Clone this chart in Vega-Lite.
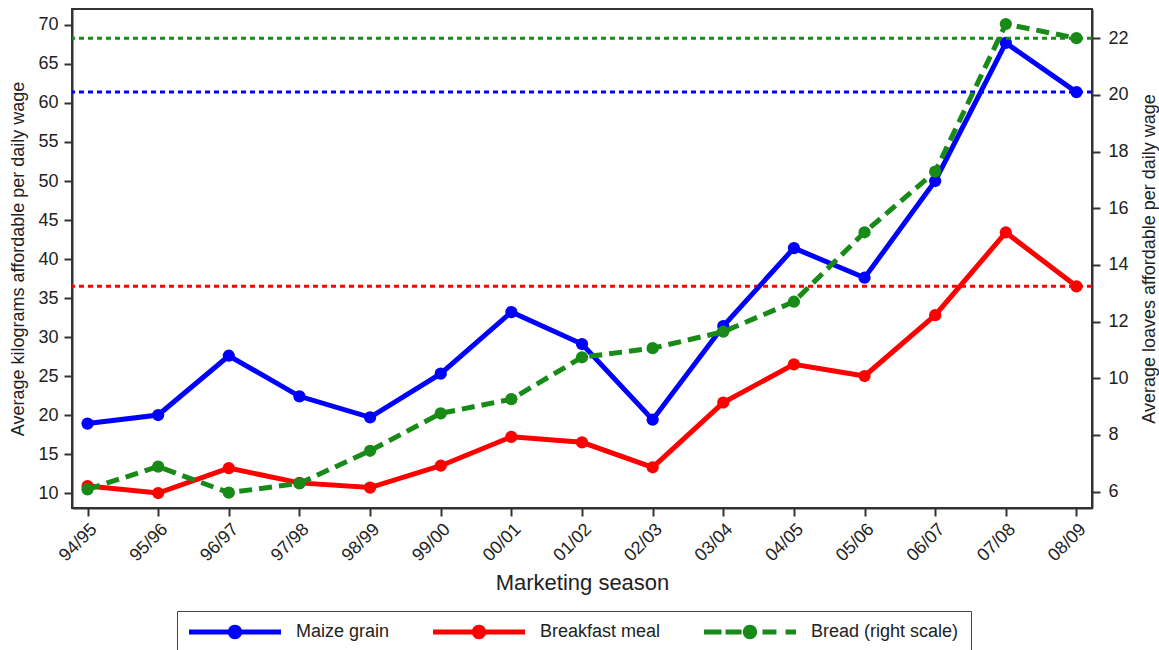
{
  "$schema": "https://vega.github.io/schema/vega-lite/v6.json",
  "width": 1020,
  "height": 499,
  "autosize": {"type": "none"},
  "padding": {"left": 72, "top": 9, "right": 67, "bottom": 142},
  "background": "white",
  "config": {
    "font": "Liberation Sans",
    "view": {"stroke": "#333", "strokeWidth": 2},
    "axis": {
      "labelFont": "Liberation Sans", "titleFont": "Liberation Sans",
      "labelFontSize": 18, "titleFontSize": 18, "titleFontWeight": "normal",
      "labelColor": "#222", "titleColor": "#222",
      "tickColor": "#333", "domainColor": "#333",
      "tickSize": 8, "tickWidth": 2, "domainWidth": 2, "grid": false
    }
  },
  "data": {
    "values": [
      {"season": "94/95", "series": "Maize grain", "value": 18.9},
      {"season": "95/96", "series": "Maize grain", "value": 20.0},
      {"season": "96/97", "series": "Maize grain", "value": 27.6},
      {"season": "97/98", "series": "Maize grain", "value": 22.4},
      {"season": "98/99", "series": "Maize grain", "value": 19.7},
      {"season": "99/00", "series": "Maize grain", "value": 25.3},
      {"season": "00/01", "series": "Maize grain", "value": 33.2},
      {"season": "01/02", "series": "Maize grain", "value": 29.1},
      {"season": "02/03", "series": "Maize grain", "value": 19.4},
      {"season": "03/04", "series": "Maize grain", "value": 31.4},
      {"season": "04/05", "series": "Maize grain", "value": 41.4},
      {"season": "05/06", "series": "Maize grain", "value": 37.6},
      {"season": "06/07", "series": "Maize grain", "value": 50.0},
      {"season": "07/08", "series": "Maize grain", "value": 67.7},
      {"season": "08/09", "series": "Maize grain", "value": 61.4},
      {"season": "94/95", "series": "Breakfast meal", "value": 10.9},
      {"season": "95/96", "series": "Breakfast meal", "value": 10.0},
      {"season": "96/97", "series": "Breakfast meal", "value": 13.2},
      {"season": "97/98", "series": "Breakfast meal", "value": 11.3},
      {"season": "98/99", "series": "Breakfast meal", "value": 10.7},
      {"season": "99/00", "series": "Breakfast meal", "value": 13.5},
      {"season": "00/01", "series": "Breakfast meal", "value": 17.2},
      {"season": "01/02", "series": "Breakfast meal", "value": 16.5},
      {"season": "02/03", "series": "Breakfast meal", "value": 13.3},
      {"season": "03/04", "series": "Breakfast meal", "value": 21.6},
      {"season": "04/05", "series": "Breakfast meal", "value": 26.5},
      {"season": "05/06", "series": "Breakfast meal", "value": 25.0},
      {"season": "06/07", "series": "Breakfast meal", "value": 32.8},
      {"season": "07/08", "series": "Breakfast meal", "value": 43.4},
      {"season": "08/09", "series": "Breakfast meal", "value": 36.5},
      {"season": "94/95", "series": "Bread (right scale)", "value": 6.08},
      {"season": "95/96", "series": "Bread (right scale)", "value": 6.88},
      {"season": "96/97", "series": "Bread (right scale)", "value": 5.96},
      {"season": "97/98", "series": "Bread (right scale)", "value": 6.29},
      {"season": "98/99", "series": "Bread (right scale)", "value": 7.44},
      {"season": "99/00", "series": "Bread (right scale)", "value": 8.76},
      {"season": "00/01", "series": "Bread (right scale)", "value": 9.26},
      {"season": "01/02", "series": "Bread (right scale)", "value": 10.74},
      {"season": "02/03", "series": "Bread (right scale)", "value": 11.06},
      {"season": "03/04", "series": "Bread (right scale)", "value": 11.64},
      {"season": "04/05", "series": "Bread (right scale)", "value": 12.7},
      {"season": "05/06", "series": "Bread (right scale)", "value": 15.15},
      {"season": "06/07", "series": "Bread (right scale)", "value": 17.29},
      {"season": "07/08", "series": "Bread (right scale)", "value": 22.5},
      {"season": "08/09", "series": "Bread (right scale)", "value": 22.0}
    ]
  },
  "layer": [
    {
      "transform": [{"filter": "datum.series !== 'Bread (right scale)'"}],
      "encoding": {
        "y": {
          "field": "value", "type": "quantitative",
          "scale": {"domain": [8.08, 72.05], "nice": false, "zero": false},
          "axis": {"orient": "left", "values": [10, 15, 20, 25, 30, 35, 40, 45, 50, 55, 60, 65, 70], "title": "Average kilograms affordable per daily wage", "labelPadding": 6, "titlePadding": 10}
        },
        "color": {
          "field": "series", "type": "nominal",
          "scale": {"domain": ["Maize grain", "Breakfast meal", "Bread (right scale)"], "range": ["#0000ff", "#ff0000", "#178a17"]},
          "legend": {
            "orient": "none", "legendX": 105, "legendY": 602,
            "direction": "horizontal", "columns": 3, "title": null,
            "strokeColor": "#444", "padding": 12, "columnPadding": 43,
            "labelFont": "Liberation Sans", "labelFontSize": 18, "labelColor": "#222",
            "symbolSize": 256, "symbolStrokeWidth": 0, "symbolOffset": 37, "labelOffset": 52,
            "encode": {
              "symbols": {
                "update": {
                  "shape": {"signal": "datum.value === 'Bread (right scale)' ? 'M-5.75,-0.3H-3.56V0.3H-5.75ZM-3.06,-0.3H-1.06V0.3H-3.06ZM1.56,-0.3H3.31V0.3H1.56ZM4.44,-0.3H5.75V0.3H4.44ZM0.9,0A0.9,0.9,0,1,1,-0.9,0A0.9,0.9,0,1,1,0.9,0Z' : 'M-5.75,-0.3H5.75V0.3H-5.75ZM0.9,0A0.9,0.9,0,1,1,-0.9,0A0.9,0.9,0,1,1,0.9,0Z'"},
                  "fill": {"scale": "color", "field": "value"},
                  "stroke": {"value": "transparent"},
                  "opacity": {"value": 1}
                }
              }
            }
          }
        }
      },
      "layer": [
        {
          "transform": [{"filter": "datum.season === '08/09'"}],
          "mark": {"type": "rule", "strokeDash": [5, 4], "strokeWidth": 3}
        },
        {
          "encoding": {
            "x": {
              "field": "season", "type": "ordinal",
              "scale": {"type": "point", "domain": ["94/95", "95/96", "96/97", "97/98", "98/99", "99/00", "00/01", "01/02", "02/03", "03/04", "04/05", "05/06", "06/07", "07/08", "08/09"], "padding": 0.22},
              "axis": {"title": "Marketing season", "titleFontSize": 22, "labelAngle": -45, "labelPadding": 4, "titlePadding": 8}
            }
          },
          "layer": [
            {"mark": {"type": "line", "strokeWidth": 5}},
            {"mark": {"type": "point", "filled": true, "size": 150, "opacity": 1}}
          ]
        }
      ]
    },
    {
      "transform": [{"filter": "datum.series === 'Bread (right scale)'"}],
      "encoding": {
        "y": {
          "field": "value", "type": "quantitative",
          "scale": {"domain": [5.42, 23.03], "nice": false, "zero": false},
          "axis": {"orient": "right", "values": [6, 8, 10, 12, 14, 16, 18, 20, 22], "title": "Average loaves affordable per daily wage", "titleAngle": 270, "titleBaseline": "top", "labelPadding": 8, "titlePadding": 12}
        },
        "color": {
          "field": "series", "type": "nominal",
          "scale": {"domain": ["Maize grain", "Breakfast meal", "Bread (right scale)"], "range": ["#0000ff", "#ff0000", "#178a17"]},
          "legend": null
        }
      },
      "layer": [
        {
          "transform": [{"filter": "datum.season === '08/09'"}],
          "mark": {"type": "rule", "strokeDash": [5, 4], "strokeWidth": 3}
        },
        {
          "encoding": {
            "x": {
              "field": "season", "type": "ordinal",
              "scale": {"type": "point", "domain": ["94/95", "95/96", "96/97", "97/98", "98/99", "99/00", "00/01", "01/02", "02/03", "03/04", "04/05", "05/06", "06/07", "07/08", "08/09"], "padding": 0.22},
              "axis": {"title": "Marketing season", "titleFontSize": 22, "labelAngle": -45, "labelPadding": 4, "titlePadding": 8}
            }
          },
          "layer": [
            {"mark": {"type": "line", "strokeWidth": 5, "strokeDash": [13, 7]}},
            {"mark": {"type": "point", "filled": true, "size": 150, "opacity": 1}}
          ]
        }
      ]
    }
  ],
  "resolve": {"scale": {"y": "independent"}}
}
